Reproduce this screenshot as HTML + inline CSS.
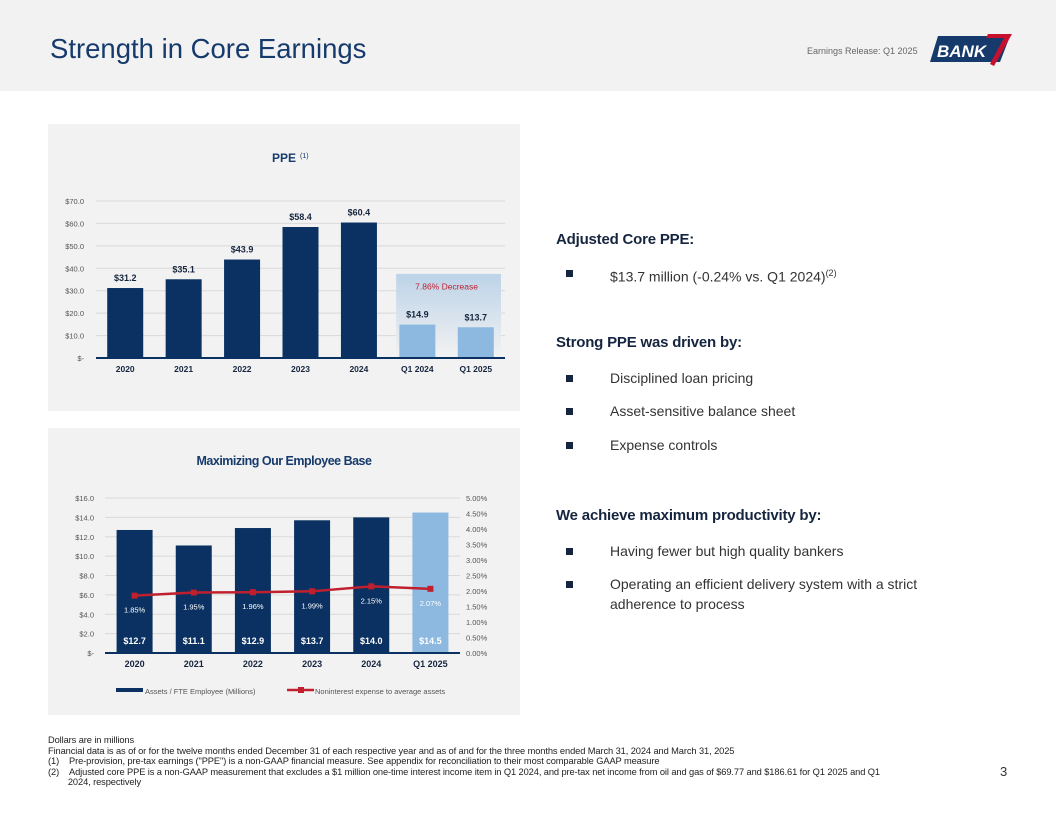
<!DOCTYPE html>
<html><head><meta charset="utf-8"><style>
body{margin:0;width:1056px;height:816px;position:relative;background:#fff;font-family:"Liberation Sans",sans-serif;overflow:hidden}
.hdr{position:absolute;left:0;top:0;width:1056px;height:91px;background:#f2f2f3}
.title{position:absolute;left:50px;top:33px;font-size:27.5px;color:#163a6b}
.rel{position:absolute;left:807px;top:46px;font-size:9px;color:#666}
.panel{position:absolute;background:#f2f2f2}
.txt{position:absolute;left:556px;color:#16253f}
.h{font-size:15px;font-weight:bold;letter-spacing:-0.2px}
.b{font-size:14px;position:absolute;left:610px;color:#333;line-height:20px}
.sq{position:absolute;left:566px;width:7px;height:7px;background:#16253f}
.foot{position:absolute;left:48px;top:735px;font-size:9.3px;color:#222;line-height:10.5px;letter-spacing:-0.1px}
</style></head><body>
<div class="hdr"></div>
<div class="title">Strength in Core Earnings</div>
<div class="rel">Earnings Release: Q1 2025</div>
<svg style="position:absolute;left:930px;top:32px" width="85" height="36">
<polygon points="8,4 80,4 70,30 0,30" fill="#163a6b"/>
<polygon points="58,2 82,2 64,34 60,32 74,6 56,6" fill="#c8102e"/>
<text x="7" y="25" font-size="17" font-weight="bold" font-style="italic" fill="#fff" font-family="Liberation Sans">BANK</text>
</svg>
<div class="panel" style="left:48px;top:124px;width:472px;height:287px"></div>
<div class="panel" style="left:48px;top:428px;width:472px;height:287px"></div>
<svg id="c1" style="position:absolute;left:0;top:0" width="1056" height="816"></svg>
<svg id="c2" style="position:absolute;left:0;top:0" width="1056" height="816"></svg>

<div class="txt h" style="top:231px">Adjusted Core PPE:</div>
<div class="sq" style="top:270px"></div><div class="b" style="top:263px">$13.7 million (-0.24% vs. Q1 2024)<sup style="font-size:9px">(2)</sup></div>
<div class="txt h" style="top:334px">Strong PPE was driven by:</div>
<div class="sq" style="top:375px"></div><div class="b" style="top:368px">Disciplined loan pricing</div>
<div class="sq" style="top:408px"></div><div class="b" style="top:401px">Asset-sensitive balance sheet</div>
<div class="sq" style="top:442px"></div><div class="b" style="top:435px">Expense controls</div>
<div class="txt h" style="top:507px">We achieve maximum productivity by:</div>
<div class="sq" style="top:548px"></div><div class="b" style="top:541px">Having fewer but high quality bankers</div>
<div class="sq" style="top:581px"></div><div class="b" style="top:574px;width:365px">Operating an efficient delivery system with a strict adherence to process</div>

<div class="foot">Dollars are in millions<br>Financial data is as of or for the twelve months ended December 31 of each respective year and as of and for the three months ended March 31, 2024 and March 31, 2025<br>(1)&nbsp;&nbsp;&nbsp;&nbsp;Pre-provision, pre-tax earnings ("PPE") is a non-GAAP financial measure. See appendix for reconciliation to their most comparable GAAP measure<br>(2)&nbsp;&nbsp;&nbsp;&nbsp;Adjusted core PPE is a non-GAAP measurement that excludes a $1 million one-time interest income item in Q1 2024, and pre-tax net income from oil and gas of $69.77 and $186.61 for Q1 2025 and Q1<br>&nbsp;&nbsp;&nbsp;&nbsp;&nbsp;&nbsp;&nbsp;&nbsp;2024, respectively</div>
<div style="position:absolute;left:1000px;top:764px;font-size:13px;color:#333">3</div>

<script>
const ppeCats=["2020","2021","2022","2023","2024","Q1 2024","Q1 2025"];
const ppeVals=[31.2,35.1,43.9,58.4,60.4,14.9,13.7];
const ppeTicks=[0,10,20,30,40,50,60,70];
const empCats=["2020","2021","2022","2023","2024","Q1 2025"];
const empAssets=[12.7,11.1,12.9,13.7,14.0,14.5];
const empRatio=[1.85,1.95,1.96,1.99,2.15,2.07];
const empTicks=[0,2,4,6,8,10,12,14,16];
const pctTicks=[0,0.5,1,1.5,2,2.5,3,3.5,4,4.5,5];
const NS="http://www.w3.org/2000/svg";
function mk(svg,tag,a,txt){const e=document.createElementNS(NS,tag);for(const k in a)e.setAttribute(k,a[k]);if(txt!==undefined)e.textContent=txt;svg.appendChild(e);return e;}
// Chart 1
(function(){
const s=document.getElementById('c1');
const x0=96,x1=505,y0=358,yT=201,max=70;
const y=v=>y0-(v/max)*(y0-yT);
const bw=(x1-x0)/ppeCats.length;
const xc=i=>x0+bw*(i+0.5);
let t=mk(s,'text',{x:284,y:162,'font-size':12,'text-anchor':'middle',fill:'#163a6b','font-weight':'bold'},'PPE');


mk(s,'text',{x:300,y:158,'font-size':7,fill:'#163a6b'},'(1)');
ppeTicks.forEach(v=>{
 if(v>0){const g=mk(s,'line',{x1:x0,x2:x1,y1:y(v),y2:y(v),stroke:'#d9d9d9','stroke-width':1});}
 const l=mk(s,'text',{x:84,y:y(v)+3,'font-size':7.5,'text-anchor':'end',fill:'#555'},v===0?'$-':'$'+v.toFixed(1));
 
 
});
const defs=mk(s,'defs',{});
const lg=mk(defs,'linearGradient',{id:'hg',x1:0,y1:0,x2:0,y2:1});
mk(lg,'stop',{offset:'0','stop-color':'#bdd3e8'});mk(lg,'stop',{offset:'1','stop-color':'#f2f2f2'});
const hb=mk(s,'rect',{x:xc(5)-bw/2+8,y:y(37.5),width:bw*2-12,height:y0-y(37.5),fill:'url(#hg)'});


const dt=mk(s,'text',{x:(xc(5)+xc(6))/2,y:y(30.5),'font-size':8.5,'text-anchor':'middle',fill:'#c0202e'},'7.86% Decrease');


ppeVals.forEach((v,i)=>{
 const r=mk(s,'rect',{x:xc(i)-18,y:y(v),width:36,height:y0-y(v),fill:i>=5?'#8db8e0':'#0a3161'});
 
 
 const l=mk(s,'text',{x:xc(i),y:y(v)-7,'font-size':9,'font-weight':'bold','text-anchor':'middle',fill:'#16253f'},'$'+v.toFixed(1));
 
 
 const c=mk(s,'text',{x:xc(i),y:372,'font-size':8.5,'font-weight':'bold','text-anchor':'middle',fill:'#16253f'},ppeCats[i]);
 
 
});
mk(s,'line',{x1:x0,x2:x1,y1:y0,y2:y0,stroke:'#0a3161','stroke-width':2});
})();
// Chart 2
(function(){
const s=document.getElementById('c2');
const x0=105,x1=460,y0=653,yT=498,max=16,pmax=5;
const y=v=>y0-(v/max)*(y0-yT);
const yp=v=>y0-(v/pmax)*(y0-yT);
const bw=(x1-x0)/empCats.length;
const xc=i=>x0+bw*(i+0.5);
const t=mk(s,'text',{x:284,y:465,'font-size':12.5,'font-weight':'bold','text-anchor':'middle',fill:'#163a6b','letter-spacing':'-0.5'},'Maximizing Our Employee Base');


empTicks.forEach(v=>{
 if(v>0){const g=mk(s,'line',{x1:x0,x2:x1,y1:y(v),y2:y(v),stroke:'#d9d9d9'});}
 const l=mk(s,'text',{x:94,y:y(v)+3,'font-size':7.5,'text-anchor':'end',fill:'#555'},v===0?'$-':'$'+v.toFixed(1));
 
 
});
pctTicks.forEach(v=>{
 const l=mk(s,'text',{x:466,y:yp(v)+3,'font-size':7.5,fill:'#555'},v.toFixed(2)+'%');
 
 
});
empAssets.forEach((v,i)=>{
 const r=mk(s,'rect',{x:xc(i)-18,y:y(v),width:36,height:y0-y(v),fill:i===5?'#8db8e0':'#0a3161'});
 
 
 const l=mk(s,'text',{x:xc(i),y:y0-9,'font-size':9,'font-weight':'bold','text-anchor':'middle',fill:'#fff'},'$'+v.toFixed(1));
 
 
 const c=mk(s,'text',{x:xc(i),y:667,'font-size':9,'font-weight':'bold','text-anchor':'middle',fill:'#16253f'},empCats[i]);
 
 
});
mk(s,'line',{x1:x0,x2:x1,y1:y0,y2:y0,stroke:'#0a3161','stroke-width':2});
const pl=mk(s,'polyline',{points:empRatio.map((v,i)=>xc(i)+','+yp(v)).join(' '),fill:'none',stroke:'#c0202e','stroke-width':2.5});


empRatio.forEach((v,i)=>{
 const m=mk(s,'rect',{x:xc(i)-3,y:yp(v)-3,width:6,height:6,fill:'#c0202e'});
 
 
 const l=mk(s,'text',{x:xc(i),y:yp(v)+17,'font-size':7.5,'text-anchor':'middle',fill:'#fff'},v.toFixed(2)+'%');
 
 
});
const le1=mk(s,'rect',{x:116,y:688,width:27,height:4,fill:'#0a3161'});


const lt1=mk(s,'text',{x:145,y:694,'font-size':7.5,fill:'#555'},'Assets / FTE Employee (Millions)');


const le2=mk(s,'line',{x1:287,x2:314,y1:690,y2:690,stroke:'#c0202e','stroke-width':2.5});


mk(s,'rect',{x:298,y:687,width:6,height:6,fill:'#c0202e'});
const lt2=mk(s,'text',{x:315,y:694,'font-size':7.5,fill:'#555'},'Noninterest expense to average assets');


})();
</script>
</body></html>
